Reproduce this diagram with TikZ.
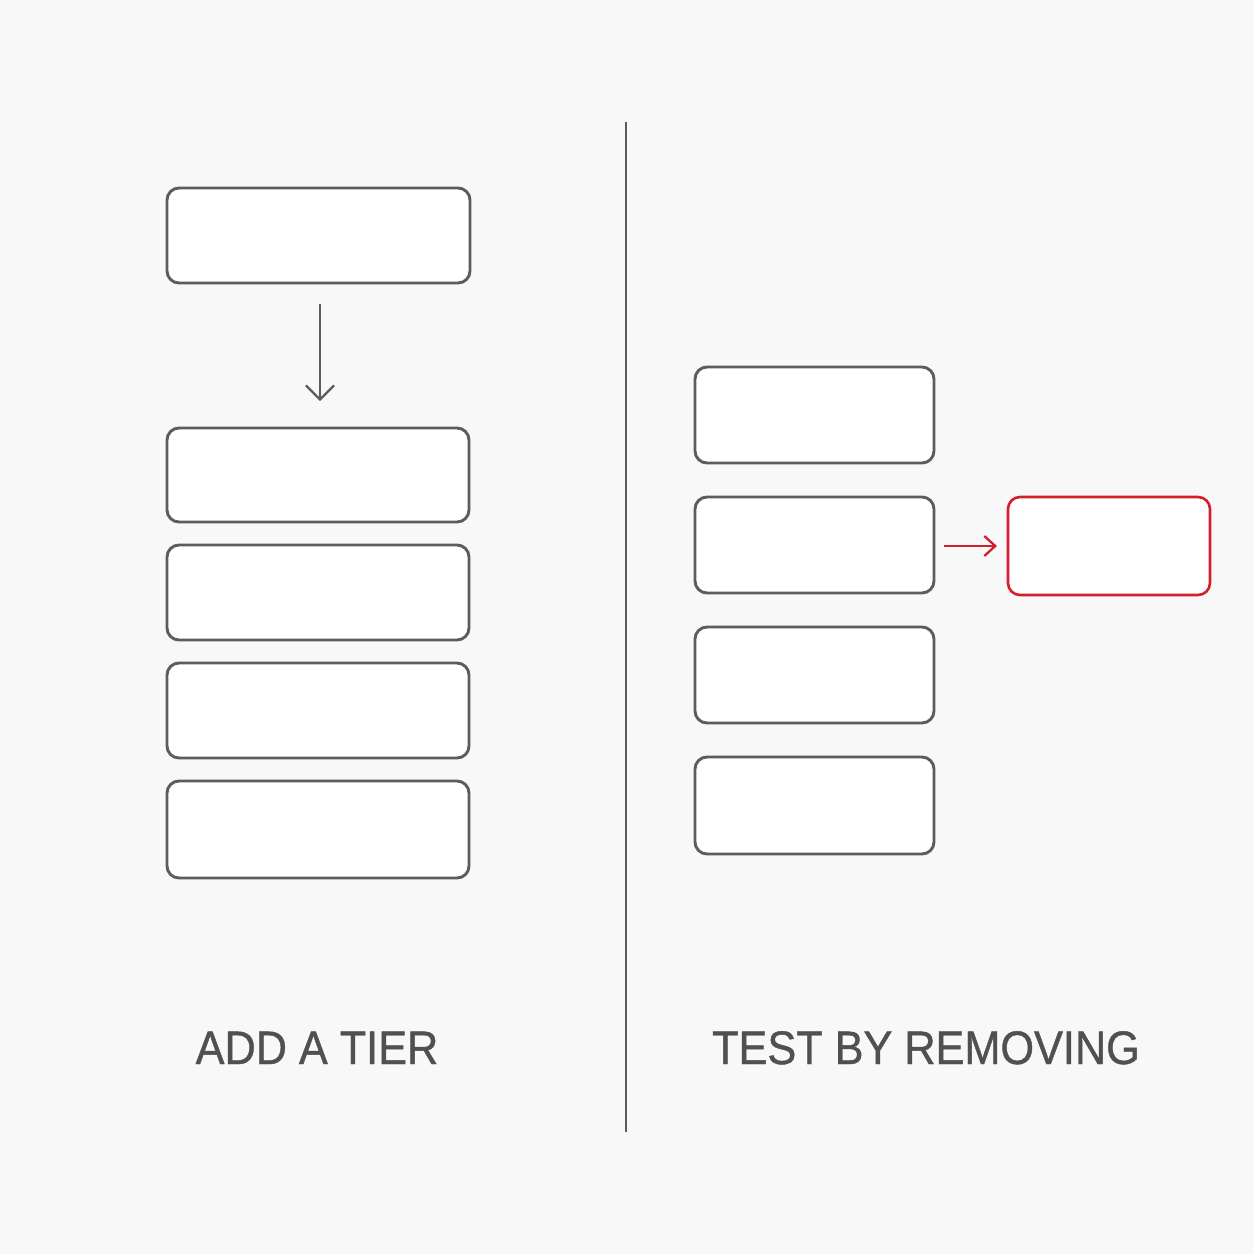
\documentclass[tikz,border=0pt]{standalone}
\usepackage{fontspec}
\setmainfont{Liberation Sans}[FakeStretch=0.92]
\newfontfamily\lblfont{Liberation Sans}[FakeStretch=0.92,FakeBold=0.9]
\usetikzlibrary{arrows.meta}
\definecolor{bgc}{HTML}{F8F8F8}
\definecolor{linec}{HTML}{5C5C5E}
\definecolor{redc}{HTML}{D21F2B}
\definecolor{textc}{HTML}{505052}
\tikzset{
  tier/.style={draw=linec, line width=2.9pt, rounded corners=12pt, fill=white},
  redtier/.style={draw=redc, line width=2.6pt, rounded corners=12pt, fill=white},
  conn/.style={draw=linec, line width=2.3pt, -{Straight Barb[length=14pt,width=28pt,line width=2.3pt]}},
  redconn/.style={draw=redc, line width=2.3pt, -{Straight Barb[length=11pt,width=20pt,line width=2.3pt]}},
  lbl/.style={text=textc, font=\lblfont\fontsize{47}{50}\selectfont, inner sep=0pt, anchor=base}
}
\begin{document}
\begin{tikzpicture}[x=1pt,y=-1pt]
\useasboundingbox[fill=bgc] (0,0) rectangle (1254,1254);
% left column
\path[tier] (167,188) rectangle (470,283);
\path[tier] (167,428) rectangle (469,522);
\path[tier] (167,545) rectangle (469,640);
\path[tier] (167,663) rectangle (469,758);
\path[tier] (167,781) rectangle (469,878);
\coordinate (a1) at (320,304);
\coordinate (a2) at (320,401);
\draw[conn] (a1) -- (a2);
% divider
\coordinate (d1) at (626,122);
\coordinate (d2) at (626,1132);
\draw[linec, line width=2.2pt] (d1) -- (d2);
% right column
\path[tier] (695,367) rectangle (934,463);
\path[tier] (695,497) rectangle (934,593);
\path[tier] (695,627) rectangle (934,723);
\path[tier] (695,757) rectangle (934,854);
\path[redtier] (1008,497) rectangle (1210,595);
\coordinate (r1) at (944,546);
\coordinate (r2) at (997,546);
\draw[redconn] (r1) -- (r2);
% labels
\node[lbl] (ladd) at (317,1064) {ADD A TIER};
\node[lbl] (ltest) at (926,1064) {TEST BY REMOVING};
\end{tikzpicture}
\end{document}
